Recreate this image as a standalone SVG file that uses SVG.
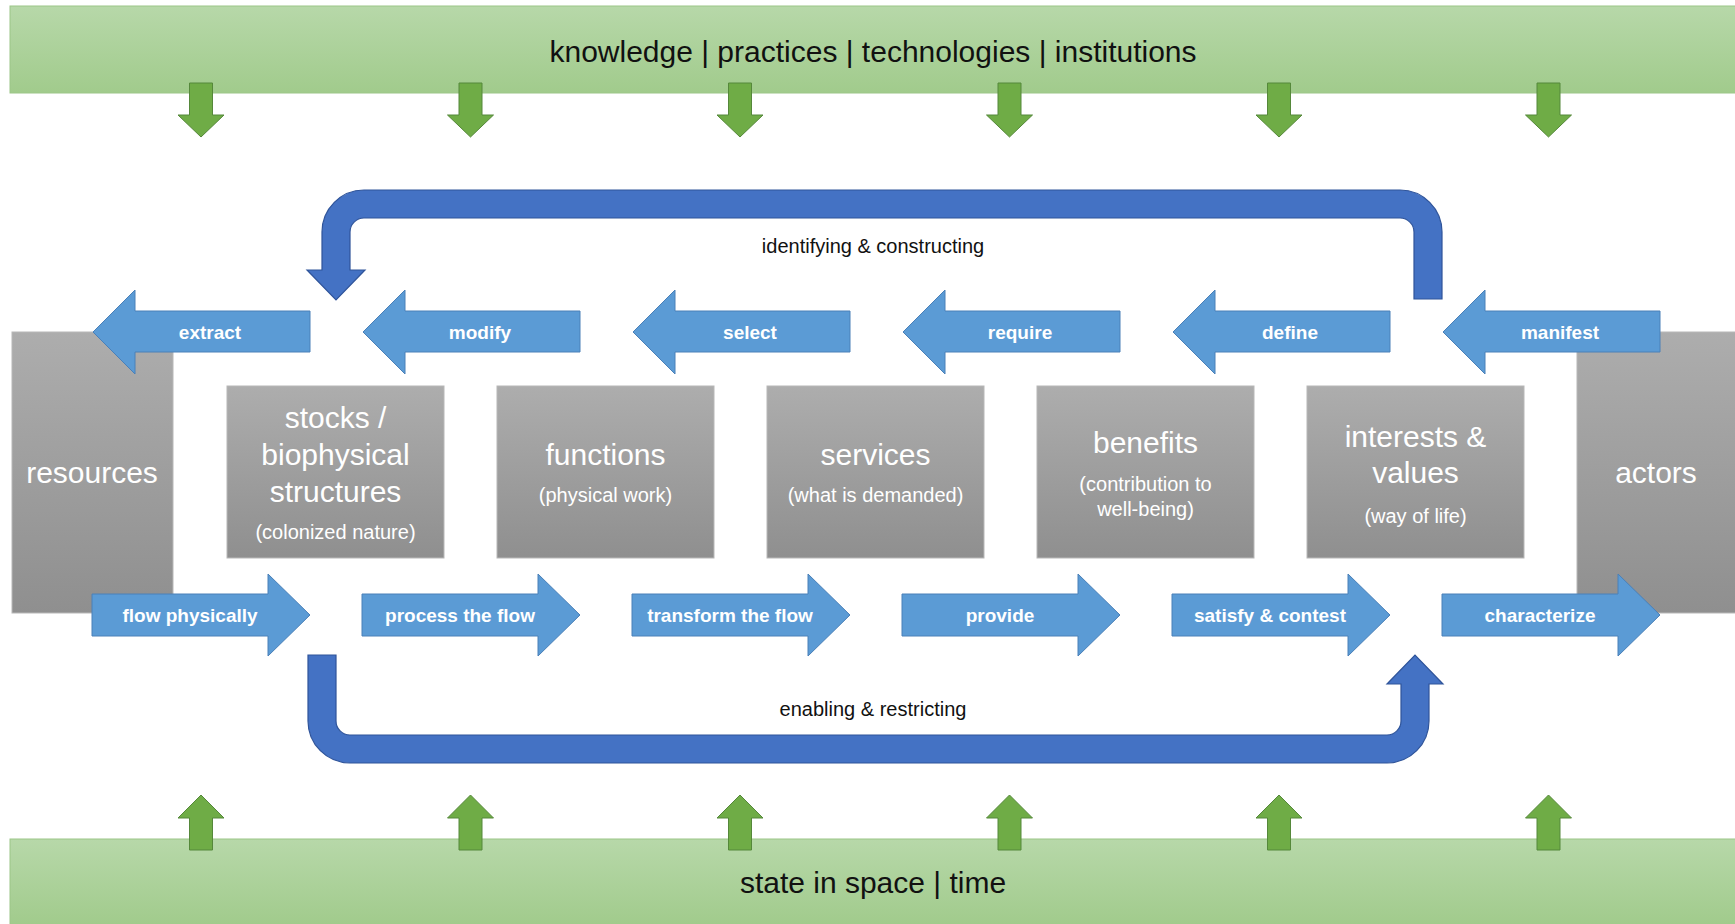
<svg xmlns="http://www.w3.org/2000/svg" width="1735" height="924" viewBox="0 0 1735 924">
<defs>
<linearGradient id="gband" x1="0" y1="0" x2="0" y2="1"><stop offset="0" stop-color="#b7d8a9"/><stop offset="1" stop-color="#a1cb8c"/></linearGradient>
<linearGradient id="ggray" x1="0" y1="0" x2="0" y2="1"><stop offset="0" stop-color="#adadad"/><stop offset="1" stop-color="#8f8f8f"/></linearGradient>
<style>
.band{fill:url(#gband);stroke:#9cc688;stroke-width:1}
.bandtxt{font-family:"Liberation Sans",Arial,sans-serif;font-size:30px;fill:#111;text-anchor:middle}
.garrow{fill:#6fac46;stroke:#55883a;stroke-width:1}
.box{fill:url(#ggray);stroke:#b8b8b8;stroke-width:1}
.big{font-family:"Liberation Sans",Arial,sans-serif;font-size:30px;fill:#fff;text-anchor:middle}
.small{font-family:"Liberation Sans",Arial,sans-serif;font-size:20px;fill:#fff;text-anchor:middle}
.barrow{fill:#5b9bd5;stroke:#4a80b8;stroke-width:1}
.lbl{font-family:"Liberation Sans",Arial,sans-serif;font-size:19px;font-weight:bold;fill:#fff;text-anchor:middle}
.loop{fill:#4472c4;stroke:#2f549a;stroke-width:1.2}
.looptxt{font-family:"Liberation Sans",Arial,sans-serif;font-size:20px;fill:#111;text-anchor:middle}
</style>
<path id="down" d="M-11.5,83 H11.5 V115 H23 L0,137 L-23,115 H-11.5 Z"/>
<path id="up" d="M-11.5,850 H11.5 V818 H23 L0,795 L-23,818 H-11.5 Z"/>
<path id="larrow" d="M0,0 L42,-42 V-21 H217 V20 H42 V42 Z"/>
<path id="rarrow" d="M0,-21 H176 V-41 L218,0 L176,41 V21 H0 Z"/>
</defs>

<g id="band-top">
<rect class="band" x="10" y="6" width="1726" height="87"/>
<text class="bandtxt" x="873" y="62">knowledge | practices | technologies | institutions</text>
</g>
<g id="band-bottom">
<rect class="band" x="10" y="839" width="1726" height="86"/>
<text class="bandtxt" x="873" y="893">state in space | time</text>
</g>

<g id="green-arrows">
<use href="#down" class="garrow" x="201"/>
<use href="#down" class="garrow" x="470.5"/>
<use href="#down" class="garrow" x="740"/>
<use href="#down" class="garrow" x="1009.5"/>
<use href="#down" class="garrow" x="1279"/>
<use href="#down" class="garrow" x="1548.5"/>
<use href="#up" class="garrow" x="201"/>
<use href="#up" class="garrow" x="470.5"/>
<use href="#up" class="garrow" x="740"/>
<use href="#up" class="garrow" x="1009.5"/>
<use href="#up" class="garrow" x="1279"/>
<use href="#up" class="garrow" x="1548.5"/>
</g>

<g id="resources">
<rect class="box" x="12" y="332" width="161" height="281"/>
<text class="big" x="92" y="483">resources</text>
</g>
<g id="actors">
<rect class="box" x="1577" y="332" width="160" height="281"/>
<text class="big" x="1656" y="483">actors</text>
</g>

<g id="connectors">
<g id="top-row">
<use href="#larrow" class="barrow" x="93" y="332"/>
<text class="lbl" x="210" y="339">extract</text>
<use href="#larrow" class="barrow" x="363" y="332"/>
<text class="lbl" x="480" y="339">modify</text>
<use href="#larrow" class="barrow" x="633" y="332"/>
<text class="lbl" x="750" y="339">select</text>
<use href="#larrow" class="barrow" x="903" y="332"/>
<text class="lbl" x="1020" y="339">require</text>
<use href="#larrow" class="barrow" x="1173" y="332"/>
<text class="lbl" x="1290" y="339">define</text>
<use href="#larrow" class="barrow" x="1443" y="332"/>
<text class="lbl" x="1560" y="339">manifest</text>
</g>
<g id="bottom-row">
<use href="#rarrow" class="barrow" x="92" y="615"/>
<text class="lbl" x="190" y="622">flow physically</text>
<use href="#rarrow" class="barrow" x="362" y="615"/>
<text class="lbl" x="460" y="622">process the flow</text>
<use href="#rarrow" class="barrow" x="632" y="615"/>
<text class="lbl" x="730" y="622">transform the flow</text>
<use href="#rarrow" class="barrow" x="902" y="615"/>
<text class="lbl" x="1000" y="622">provide</text>
<use href="#rarrow" class="barrow" x="1172" y="615"/>
<text class="lbl" x="1270" y="622">satisfy &amp; contest</text>
<use href="#rarrow" class="barrow" x="1442" y="615"/>
<text class="lbl" x="1540" y="622">characterize</text>
</g>
<g id="loop-top">
<path class="loop" d="M1442,299 V232 A42,42 0 0 0 1400,190 H364 A42,42 0 0 0 322,232 V270 H307 L336,300 L365,270 H350 V232 A14,14 0 0 1 364,218 H1400 A14,14 0 0 1 1414,232 V299 Z"/>
<text class="looptxt" x="873" y="253">identifying &amp; constructing</text>
</g>
<g id="loop-bottom">
<path class="loop" d="M308,655 V721 A42,42 0 0 0 350,763 H1387 A42,42 0 0 0 1429,721 V684 H1443 L1415,655 L1387,684 H1401 V721 A14,14 0 0 1 1387,735 H350 A14,14 0 0 1 336,721 V655 Z"/>
<text class="looptxt" x="873" y="716">enabling &amp; restricting</text>
</g>
</g>

<g id="stocks">
<rect class="box" x="227" y="386" width="217" height="172"/>
<text class="big" x="335.5" y="428">stocks /</text>
<text class="big" x="335.5" y="465">biophysical</text>
<text class="big" x="335.5" y="502">structures</text>
<text class="small" x="335.5" y="539">(colonized nature)</text>
</g>
<g id="functions">
<rect class="box" x="497" y="386" width="217" height="172"/>
<text class="big" x="605.5" y="465">functions</text>
<text class="small" x="605.5" y="502">(physical work)</text>
</g>
<g id="services">
<rect class="box" x="767" y="386" width="217" height="172"/>
<text class="big" x="875.5" y="465">services</text>
<text class="small" x="875.5" y="502">(what is demanded)</text>
</g>
<g id="benefits">
<rect class="box" x="1037" y="386" width="217" height="172"/>
<text class="big" x="1145.5" y="453">benefits</text>
<text class="small" x="1145.5" y="491">(contribution to</text>
<text class="small" x="1145.5" y="516">well-being)</text>
</g>
<g id="interests">
<rect class="box" x="1307" y="386" width="217" height="172"/>
<text class="big" x="1415.5" y="447">interests &amp;</text>
<text class="big" x="1415.5" y="483">values</text>
<text class="small" x="1415.5" y="523">(way of life)</text>
</g>
</svg>
